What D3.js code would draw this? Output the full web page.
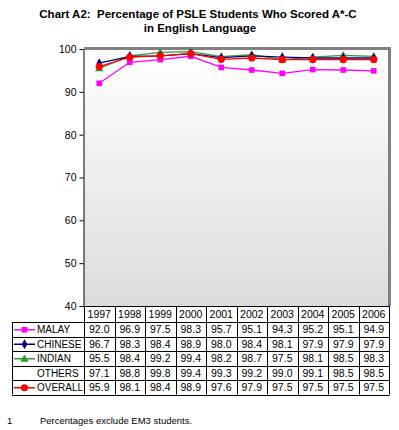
<!DOCTYPE html>
<html>
<head>
<meta charset="utf-8">
<script src="https://cdn.jsdelivr.net/npm/d3@7"></script>
<style>
  body { margin: 0; background: #fff; }
  text { font-family: Arial, "Liberation Sans", sans-serif; white-space: pre; }
</style>
</head>
<body>
<div id="chart"></div>
<script>
// data
var years = ["1997", "1998", "1999", "2000", "2001", "2002", "2003", "2004", "2005", "2006"];
var malay   = [92.0, 96.9, 97.5, 98.3, 95.7, 95.1, 94.3, 95.2, 95.1, 94.9];
var chinese = [96.7, 98.3, 98.4, 98.9, 98.0, 98.4, 98.1, 97.9, 97.9, 97.9];
var indian  = [95.5, 98.4, 99.2, 99.4, 98.2, 98.7, 97.5, 98.1, 98.5, 98.3];
var others  = [97.1, 98.8, 99.8, 99.4, 99.3, 99.2, 99.0, 99.1, 98.5, 98.5];
var overall = [95.9, 98.1, 98.4, 98.9, 97.6, 97.9, 97.5, 97.5, 97.5, 97.5];
var yTicks = [40, 50, 60, 70, 80, 90, 100];

var series = [
  {name: "MALAY",   values: malay,   color: "#ff00ff", marker: "square"},
  {name: "CHINESE", values: chinese, color: "#000080", marker: "diamond"},
  {name: "INDIAN",  values: indian,  color: "#339933", marker: "triangle"},
  {name: "OTHERS",  values: others,  color: "none",    marker: null},
  {name: "OVERALL", values: overall, color: "#ff0000", marker: "circle"}
];

var W = 399, H = 430;
var plotL = 84, plotR = 389, plotT = 49, plotB = 306;
var tableL = 12, headH = 16, rowH = 14.5;

var svg = d3.select("#chart").append("svg")
    .attr("width", W)
    .attr("height", H);

// title
svg.append("text")
    .attr("x", 198).attr("y", 18)
    .attr("text-anchor", "middle")
    .attr("font-size", "11.5px").attr("font-weight", "bold")
    .text("Chart A2:  Percentage of PSLE Students Who Scored A*-C");
svg.append("text")
    .attr("x", 200).attr("y", 32)
    .attr("text-anchor", "middle")
    .attr("font-size", "11.5px").attr("font-weight", "bold")
    .text("in English Language");

var x = d3.scaleBand().domain(years).range([plotL, plotR]);
var y = d3.scaleLinear().domain([40, 100]).range([plotB, plotT]);

// plot background gradient
var grad = svg.append("defs").append("linearGradient")
    .attr("id", "bg").attr("x1", 0).attr("y1", 0).attr("x2", 0).attr("y2", 1);
grad.append("stop").attr("offset", "0%").attr("stop-color", "#ffffff");
grad.append("stop").attr("offset", "100%").attr("stop-color", "#dcdcdc");

svg.append("rect")
    .attr("x", plotL).attr("y", plotT)
    .attr("width", plotR - plotL).attr("height", plotB - plotT)
    .attr("fill", "url(#bg)");

// gray frame (top and right)
svg.append("path")
    .attr("d", "M" + plotL + "," + (plotT - 0.5) + "H" + (plotR + 0.5) + "V" + plotB)
    .attr("fill", "none")
    .attr("stroke", "#808080")
    .attr("stroke-width", 3);

// Y axis
var yAxis = svg.append("g")
    .attr("transform", "translate(" + (plotL - 0.5) + ",0)")
    .call(d3.axisLeft(y).tickValues(yTicks).tickSize(4).tickSizeOuter(0).tickPadding(3));
yAxis.select(".domain").attr("stroke", "#000");
yAxis.selectAll("text").attr("font-size", "10.5px").attr("fill", "#000")
    .style("font-family", "Arial, 'Liberation Sans', sans-serif");

// bottom axis line
svg.append("line")
    .attr("x1", plotL - 4).attr("x2", plotR)
    .attr("y1", plotB + 0.5).attr("y2", plotB + 0.5)
    .attr("stroke", "#000");

// lines
var line = d3.line()
    .x(function(d, i) { return x(years[i]) + x.bandwidth() / 2; })
    .y(function(d) { return y(d); });

function drawMarker(g, type, cx, cy, color) {
  if (type == "square") {
    g.append("rect").attr("x", cx - 2.8).attr("y", cy - 2.8).attr("width", 5.6).attr("height", 5.6).attr("fill", color);
  } else if (type == "diamond") {
    g.append("path").attr("d", d3.symbol().type(d3.symbolDiamond).size(28)()).attr("transform", "translate(" + cx + "," + cy + ")").attr("fill", color);
  } else if (type == "triangle") {
    g.append("path").attr("d", d3.symbol().type(d3.symbolTriangle).size(30)()).attr("transform", "translate(" + cx + "," + (cy + 0.5) + ")").attr("fill", color);
  } else if (type == "circle") {
    g.append("circle").attr("cx", cx).attr("cy", cy).attr("r", 3.6).attr("fill", color);
  }
}

var drawOrder = [2, 1, 0, 4];
drawOrder.forEach(function(k) {
  var s = series[k];
  var g = svg.append("g");
  g.append("path")
    .datum(s.values)
    .attr("d", line)
    .attr("fill", "none")
    .attr("stroke", s.color)
    .attr("stroke-width", 1.3);
  s.values.forEach(function(v, i) {
    drawMarker(g, s.marker, x(years[i]) + x.bandwidth() / 2, y(v), s.color);
  });
});

// data table
var table = svg.append("g");
var tableTop = plotB;
var rowsTop = tableTop + headH;
var tableBot = rowsTop + rowH * series.length;

// header row
years.forEach(function(yr) {
  table.append("text")
    .attr("x", x(yr) + x.bandwidth() / 2)
    .attr("y", tableTop + 12)
    .attr("text-anchor", "middle")
    .attr("font-size", "10.5px")
    .text(yr);
});

// grid
var grid = table.append("g").attr("stroke", "#000").attr("stroke-width", 1);
years.forEach(function(yr, i) {
  grid.append("line")
    .attr("x1", Math.round(x(yr)) + 0.5).attr("x2", Math.round(x(yr)) + 0.5)
    .attr("y1", tableTop).attr("y2", tableBot);
});
grid.append("line")
  .attr("x1", plotR + 0.5).attr("x2", plotR + 0.5)
  .attr("y1", tableTop).attr("y2", tableBot);
grid.append("line")
  .attr("x1", tableL + 0.5).attr("x2", tableL + 0.5)
  .attr("y1", rowsTop).attr("y2", tableBot);
for (var r = 0; r <= series.length; r++) {
  var yy = Math.round(rowsTop + r * rowH) + 0.5;
  grid.append("line")
    .attr("x1", tableL).attr("x2", plotR + 0.5)
    .attr("y1", yy).attr("y2", yy);
}

series.forEach(function(s, r) {
  var cy = rowsTop + r * rowH + rowH / 2;
  if (s.marker) {
    table.append("line")
      .attr("x1", 14).attr("x2", 35)
      .attr("y1", cy + 0.5).attr("y2", cy + 0.5)
      .attr("stroke", s.color).attr("stroke-width", 1.5);
    drawMarker(table, s.marker, 24.5, cy + 0.5, s.color);
  }
  table.append("text")
    .attr("x", 37).attr("y", cy + 4)
    .attr("font-size", "10px")
    .text(s.name);
  s.values.forEach(function(v, i) {
    table.append("text")
      .attr("x", x(years[i]) + x.bandwidth() / 2)
      .attr("y", cy + 4)
      .attr("text-anchor", "middle")
      .attr("font-size", "10.5px")
      .text(v.toFixed(1));
  });
});

// footnote
svg.append("text")
    .attr("x", 7).attr("y", 424)
    .attr("font-size", "9.5px")
    .text("1");
svg.append("text")
    .attr("x", 40).attr("y", 424)
    .attr("font-size", "9.5px")
    .text("Percentages exclude EM3 students.");
</script>
</body>
</html>
